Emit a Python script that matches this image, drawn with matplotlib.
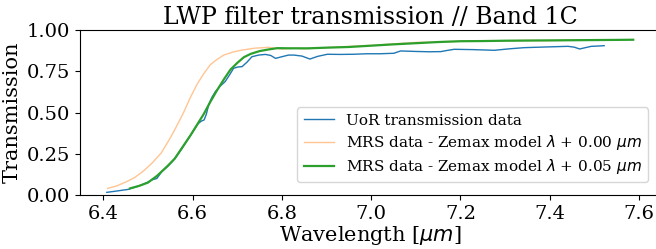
import matplotlib
matplotlib.use("Agg")
import matplotlib.pyplot as plt

# UoR transmission data
uor_wl = [6.408, 6.430, 6.456, 6.486, 6.500, 6.509, 6.520, 6.531, 6.546, 6.561, 6.576, 6.591,
          6.603, 6.613, 6.620, 6.626, 6.631, 6.636, 6.643, 6.651, 6.662, 6.673, 6.683, 6.692,
          6.702, 6.711, 6.722, 6.733, 6.748, 6.763, 6.775, 6.786, 6.800, 6.815, 6.827, 6.845,
          6.863, 6.880, 6.902, 6.930, 6.961, 6.990, 7.020, 7.051, 7.066, 7.100, 7.130, 7.156,
          7.170, 7.186, 7.230, 7.276, 7.310, 7.343, 7.390, 7.441, 7.455, 7.467, 7.480, 7.493,
          7.510, 7.522]
uor_tr = [0.016, 0.024, 0.034, 0.061, 0.078, 0.092, 0.100, 0.141, 0.178, 0.222, 0.280, 0.343,
          0.392, 0.434, 0.448, 0.455, 0.490, 0.545, 0.590, 0.626, 0.660, 0.687, 0.728, 0.768,
          0.776, 0.778, 0.805, 0.838, 0.848, 0.852, 0.846, 0.828, 0.838, 0.848, 0.848, 0.842,
          0.824, 0.840, 0.853, 0.852, 0.853, 0.856, 0.856, 0.859, 0.873, 0.870, 0.868, 0.869,
          0.876, 0.883, 0.881, 0.877, 0.886, 0.893, 0.897, 0.901, 0.896, 0.885, 0.893, 0.901,
          0.903, 0.905]

# MRS data - Zemax model, lambda + 0.00 um
mrs0_wl = [6.410, 6.430, 6.450, 6.470, 6.490, 6.510, 6.530, 6.550, 6.565, 6.580, 6.595, 6.610,
           6.625, 6.640, 6.655, 6.670, 6.690, 6.710, 6.740, 6.770, 6.800, 6.830, 6.850, 6.880,
           6.900, 6.930, 6.950, 6.980, 7.000, 7.030, 7.050, 7.080, 7.100, 7.130, 7.150, 7.180,
           7.200, 7.250, 7.300, 7.350, 7.400, 7.450, 7.500, 7.535]
mrs0_tr = [0.040, 0.055, 0.078, 0.105, 0.145, 0.195, 0.255, 0.345, 0.420, 0.500, 0.590, 0.670,
           0.735, 0.790, 0.822, 0.848, 0.866, 0.878, 0.890, 0.895, 0.885, 0.890, 0.886, 0.891,
           0.893, 0.898, 0.900, 0.905, 0.906, 0.912, 0.916, 0.921, 0.925, 0.926, 0.929, 0.930,
           0.932, 0.933, 0.935, 0.937, 0.936, 0.938, 0.938, 0.938]

# MRS data - Zemax model, lambda + 0.05 um
mrs5_wl = [6.460, 6.480, 6.500, 6.520, 6.530, 6.545, 6.560, 6.580, 6.595, 6.610, 6.625, 6.640,
           6.655, 6.670, 6.685, 6.700, 6.715, 6.730, 6.750, 6.770, 6.790, 6.820, 6.860, 6.900,
           6.950, 7.000, 7.050, 7.100, 7.150, 7.200, 7.250, 7.300, 7.350, 7.400, 7.450, 7.500,
           7.550, 7.587]
mrs5_tr = [0.040, 0.055, 0.075, 0.115, 0.140, 0.178, 0.220, 0.300, 0.360, 0.425, 0.490, 0.565,
           0.635, 0.700, 0.760, 0.800, 0.835, 0.855, 0.872, 0.882, 0.890, 0.889, 0.889, 0.893,
           0.897, 0.905, 0.913, 0.920, 0.927, 0.932, 0.933, 0.935, 0.936, 0.937, 0.938, 0.939,
           0.940, 0.941]

xticks = [6.4, 6.6, 6.8, 7.0, 7.2, 7.4, 7.6]
yticks = [0.00, 0.25, 0.50, 0.75, 1.00]

plt.rcParams['font.family'] = ['DejaVu Serif']

fig = plt.figure(figsize=(6.56, 2.49), dpi=100)
ax = fig.add_axes([80 / 656, 1 - 195 / 249, 580 / 656, 165 / 249])

ax.plot(uor_wl, uor_tr, color='#1f77b4', lw=1.0, label='UoR transmission data')
ax.plot(mrs0_wl, mrs0_tr, color='#ff7f0e', lw=1.0, alpha=0.45,
        label=r'MRS data - Zemax model $\lambda$ + 0.00 $\mu m$')
ax.plot(mrs5_wl, mrs5_tr, color='#2ca02c', lw=1.6,
        label=r'MRS data - Zemax model $\lambda$ + 0.05 $\mu m$')

ax.set_xlim(6.348, 7.647)
ax.set_ylim(0, 1.0)
ax.set_xticks(xticks)
ax.set_xticklabels([f"{v:.1f}" for v in xticks])
ax.set_yticks(yticks)
ax.set_yticklabels([f"{v:.2f}" for v in yticks])
ax.tick_params(axis='both', labelsize=14)
ax.set_xlabel(r'Wavelength [$\mu m$]', fontsize=15, labelpad=1)
ax.set_ylabel('Transmission', fontsize=15, labelpad=4)
ax.set_title('LWP filter transmission // Band 1C', fontsize=17, pad=4)
ax.spines['right'].set_visible(False)

ax.legend(loc='lower right', fontsize=11, bbox_to_anchor=(0.993, 0.03),
          labelspacing=0.35)

fig.savefig('out.png', dpi=100)
